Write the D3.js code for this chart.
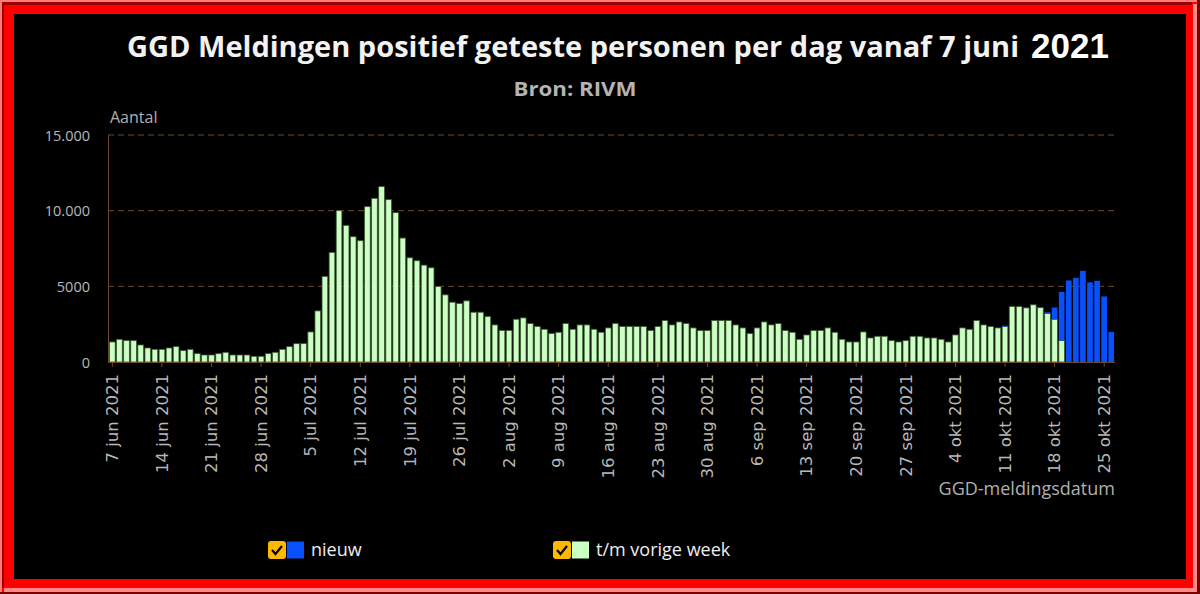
<!DOCTYPE html>
<html>
<head>
<meta charset="utf-8">
<script src="https://cdn.jsdelivr.net/npm/d3@7"></script>
<style>
  html, body { margin: 0; padding: 0; background: #000; }
  svg { display: block; }
</style>
</head>
<body>
<svg id="chart" width="1200" height="594"></svg>
<script>
// ---- data ----
const startDate = "2021-06-07";
const endDate = "2021-10-26";
const tmVorigeWeek = [
  1324, 1500, 1412, 1412, 1125, 927, 838, 838, 927, 1015, 750, 838, 551, 463,
  463, 551, 640, 463, 463, 463, 375, 375, 551, 640, 838, 1015, 1213, 1213,
  1986, 3376, 5650, 7238, 10000, 9026, 8278, 8013, 10265, 10815, 11589, 10728, 9868, 8190,
  6887, 6689, 6401, 6225, 4988, 4436, 3951, 3863, 4040, 3289, 3289, 3002, 2450, 2075,
  2075, 2825, 2913, 2538, 2340, 2163, 1876, 1964, 2538, 2163, 2450, 2450, 2163, 1964,
  2251, 2538, 2340, 2340, 2340, 2340, 2075, 2340, 2737, 2450, 2648, 2538, 2251, 2075,
  2075, 2737, 2737, 2737, 2450, 2251, 1876, 2251, 2648, 2450, 2538, 2075, 1964, 1500,
  1788, 2075, 2075, 2251, 1964, 1500, 1324, 1324, 1986, 1589, 1699, 1699, 1412, 1324,
  1412, 1699, 1699, 1589, 1589, 1500, 1324, 1788, 2251, 2163, 2737, 2450, 2340, 2251,
  2340, 3663, 3663, 3575, 3780, 3590, 3204, 2825, 1420, 0, 0, 0, 0, 0,
  0, 0
];
const nieuw = [
  0, 0, 0, 0, 0, 0, 0, 0, 0, 0, 0, 0, 0, 0,
  0, 0, 0, 0, 0, 0, 0, 0, 0, 0, 0, 0, 0, 0,
  0, 0, 0, 0, 0, 0, 0, 0, 0, 0, 0, 0, 0, 0,
  0, 0, 0, 0, 0, 0, 0, 0, 0, 0, 0, 0, 0, 0,
  0, 0, 0, 0, 0, 0, 0, 0, 0, 0, 0, 0, 0, 0,
  0, 0, 0, 0, 0, 0, 0, 0, 0, 0, 0, 0, 0, 0,
  0, 0, 0, 0, 0, 0, 0, 0, 0, 0, 0, 0, 0, 0,
  0, 0, 0, 0, 0, 0, 0, 0, 0, 0, 0, 0, 0, 0,
  0, 0, 0, 0, 0, 0, 0, 0, 0, 0, 0, 0, 0, 0,
  66, 0, 0, 0, 0, 0, 85, 775, 3216, 5390, 5563, 6026, 5258, 5364,
  4331, 1987
];
const yTicks = [0, 5000, 10000, 15000];
const yTickLabels = ["0", "5000", "10.000", "15.000"];
const xTickLabels = ["7 jun 2021", "14 jun 2021", "21 jun 2021", "28 jun 2021", "5 jul 2021",
  "12 jul 2021", "19 jul 2021", "26 jul 2021", "2 aug 2021", "9 aug 2021", "16 aug 2021",
  "23 aug 2021", "30 aug 2021", "6 sep 2021", "13 sep 2021", "20 sep 2021", "27 sep 2021",
  "4 okt 2021", "11 okt 2021", "18 okt 2021", "25 okt 2021"];
const seriesNames = ["t/m vorige week", "nieuw"];
const seriesColors = { "t/m vorige week": "#ccffc4", "nieuw": "#0a50fa" };

// ---- build ----
const parse = d3.timeParse("%Y-%m-%d");
const dates = d3.timeDay.range(parse(startDate), d3.timeDay.offset(parse(endDate), 1));
const rows = dates.map((d, i) => ({ date: d, "t/m vorige week": tmVorigeWeek[i], "nieuw": nieuw[i] }));

const svg = d3.select("#chart");

// frame
svg.append("rect").attr("x", 0).attr("y", 0).attr("width", 1200).attr("height", 594).attr("fill", "#ff0000");
svg.append("rect").attr("x", 0).attr("y", 0).attr("width", 1200).attr("height", 2).attr("fill", "#ff7a7a");
svg.append("rect").attr("x", 0).attr("y", 0).attr("width", 2).attr("height", 594).attr("fill", "#ff7a7a");
svg.append("rect").attr("x", 2).attr("y", 2).attr("width", 1190).attr("height", 3).attr("fill", "#9a0000");
svg.append("rect").attr("x", 2).attr("y", 2).attr("width", 2).attr("height", 586).attr("fill", "#9a0000");
svg.append("rect").attr("x", 4).attr("y", 588).attr("width", 1193).attr("height", 4).attr("fill", "#ff8a8a");
svg.append("rect").attr("x", 1193).attr("y", 4).attr("width", 4).attr("height", 588).attr("fill", "#ff8a8a");
svg.append("rect").attr("x", 0).attr("y", 592).attr("width", 1200).attr("height", 2).attr("fill", "#7a0000");
svg.append("rect").attr("x", 1197).attr("y", 0).attr("width", 3).attr("height", 594).attr("fill", "#7a0000");
svg.append("rect").attr("x", 14).attr("y", 14).attr("width", 1172).attr("height", 565).attr("fill", "#000");

// titles
svg.append("text").attr("x", 127).attr("y", 57)
  .attr("font-family", "Open Sans").attr("font-weight", 700).attr("font-size", 28.5)
  .attr("fill", "#f2f2f2").attr("textLength", 892).attr("lengthAdjust", "spacingAndGlyphs")
  .text("GGD Meldingen positief geteste personen per dag vanaf 7 juni");
svg.append("text").attr("x", 1031).attr("y", 58)
  .attr("font-family", "Liberation Sans").attr("font-weight", 700).attr("font-size", 35)
  .attr("fill", "#ffffff").text("2021");
svg.append("text").attr("x", 575).attr("y", 96).attr("text-anchor", "middle")
  .attr("font-family", "Open Sans").attr("font-weight", 700).attr("font-size", 19.5)
  .attr("fill", "#b4b4b4").attr("textLength", 123).attr("lengthAdjust", "spacingAndGlyphs")
  .text("Bron: RIVM");

// scales
const x = d3.scaleBand().domain(rows.map(r => r.date)).range([108.8, 1114.8]).paddingInner(0.2).paddingOuter(0.1);
const y = d3.scaleLinear().domain([0, 15000]).range([362, 135]);

const gridColor = "#6a4a2c";
// grid lines
svg.append("g").selectAll("line").data(yTicks.filter(t => t > 0)).join("line")
  .attr("x1", 108).attr("x2", 1114).attr("y1", d => y(d)).attr("y2", d => y(d))
  .attr("stroke", gridColor).attr("stroke-width", 1).attr("stroke-dasharray", "6,4");

// y axis labels
const yAxis = d3.axisLeft(y).tickValues(yTicks).tickSize(0).tickPadding(0)
  .tickFormat((d, i) => yTickLabels[i]);
const gy = svg.append("g").attr("transform", "translate(90,0)").call(yAxis);
gy.select(".domain").remove();
gy.selectAll("text").attr("font-family", "Open Sans").attr("font-size", 14.5).attr("fill", "#b8b8b8").attr("dy", "0.35em");

svg.append("text").attr("x", 110).attr("y", 123).attr("font-family", "Open Sans")
  .attr("font-size", 16).attr("fill", "#b0b0b0").text("Aantal");

// y axis line
svg.append("line").attr("x1", 108.5).attr("x2", 108.5).attr("y1", 135).attr("y2", 362)
  .attr("stroke", gridColor).attr("stroke-width", 1);

// bars
const stack = d3.stack().keys(seriesNames)(rows);
svg.append("g").selectAll("g").data(stack).join("g")
  .attr("fill", d => seriesColors[d.key])
  .attr("stroke", d => d.key === "nieuw" ? "none" : "#3e5a34")
  .attr("stroke-width", 0.8)
  .selectAll("rect").data(d => d.filter(p => p[1] - p[0] > 0)).join("rect")
  .attr("x", p => x(p.data.date))
  .attr("width", x.bandwidth())
  .attr("y", p => y(p[1]))
  .attr("height", p => y(p[0]) - y(p[1]));

// x axis
const tickDates = rows.filter((r, i) => i % 7 === 0).map(r => r.date);
const xAxis = d3.axisBottom(x).tickValues(tickDates).tickSize(5).tickPadding(8)
  .tickFormat((d, i) => xTickLabels[i]);
const gx = svg.append("g").attr("transform", "translate(0,362)").call(xAxis);
gx.select(".domain").attr("stroke", gridColor).attr("d", "M108,0.5H1115");
gx.selectAll(".tick line").attr("stroke", gridColor);
gx.selectAll("text")
  .attr("font-family", "DejaVu Sans").attr("font-size", 16.5).attr("fill", "#b8b8b8")
  .attr("text-anchor", "end")
  .attr("transform", "rotate(-90)")
  .attr("x", -12).attr("y", 0).attr("dy", "0.35em");

svg.append("text").attr("x", 1115).attr("y", 495).attr("text-anchor", "end")
  .attr("font-family", "Open Sans").attr("font-size", 18).attr("fill", "#b0b0b0")
  .text("GGD-meldingsdatum");

// legend
const legendItems = [
  { name: "nieuw", x: 268 },
  { name: "t/m vorige week", x: 553 }
];
const lg = svg.append("g").selectAll("g").data(legendItems).join("g")
  .attr("transform", d => `translate(${d.x},541)`);
lg.append("rect").attr("x", 0).attr("y", 0).attr("width", 18).attr("height", 18).attr("rx", 3)
  .attr("fill", "#ffb800");
lg.append("path").attr("d", "M4,9 L7.5,13 L14,5").attr("fill", "none").attr("stroke", "#000")
  .attr("stroke-width", 2.2);
lg.append("rect").attr("x", 19).attr("y", 0.5).attr("width", 17).attr("height", 17)
  .attr("fill", d => seriesColors[d.name]);
lg.append("text").attr("x", 43).attr("y", 15).attr("font-family", "Open Sans")
  .attr("font-size", 18).attr("fill", "#eeeeee").text(d => d.name);
</script>
</body>
</html>
